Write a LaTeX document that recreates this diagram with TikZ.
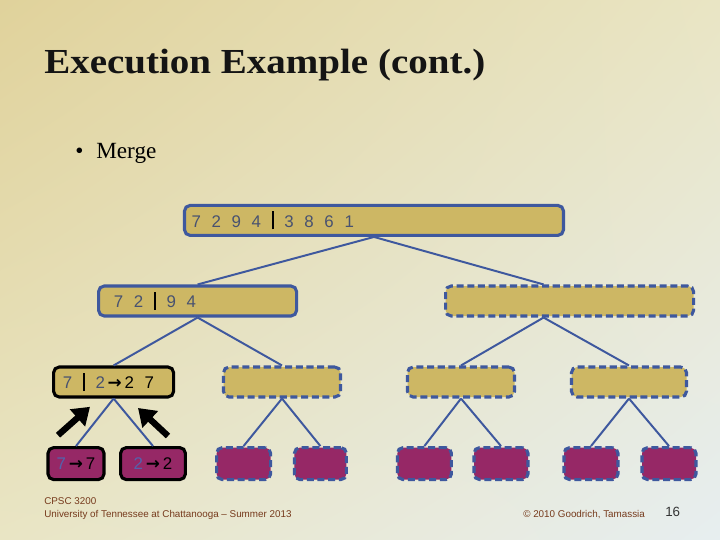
\documentclass[tikz,border=0pt]{standalone}
\usepackage{graphicx}
\usepackage{fontspec}
\setmainfont{Liberation Serif}
\setsansfont{Liberation Sans}
\newfontfamily\arrowfont{DejaVu Sans}
\usepackage{xcolor}
\definecolor{msgold}{RGB}{205,183,100}
\definecolor{msplum}{RGB}{150,40,102}
\definecolor{msblue}{RGB}{62,88,158}
\definecolor{msslate}{RGB}{72,82,112}
\definecolor{msdigit}{RGB}{84,98,172}
\definecolor{msbrown}{RGB}{118,58,28}
\definecolor{bgtan}{RGB}{224,210,155}
\definecolor{bgcream}{RGB}{233,229,196}
\definecolor{bgmist}{RGB}{231,238,240}
\usetikzlibrary{arrows.meta,positioning,shadings}
\newcommand{\dsp}{\hspace{0.63em}}
\newcommand{\mbar}{\textcolor{black}{\rule[-0.14em]{1.5pt}{1.07em}}}
\newcommand{\marr}{\textcolor{black}{{\arrowfont\bfseries →}}}
\tikzset{
  mnode/.style={draw=msblue, rounded corners=4pt, fill=#1, line width=2.2pt,
                minimum height=0.75cm, inner xsep=0.18cm, inner ysep=0pt,
                font=\sffamily\fontsize{12}{14}\selectfont, text=msslate, align=left},
  leaf/.style={draw=msblue, rounded corners=4pt, fill=msplum, line width=2.2pt,
               minimum height=0.8cm, minimum width=1.35cm, inner sep=0pt,
               font=\sffamily\fontsize{12}{14}\selectfont, text=black},
  mdone/.style={draw=black},
  mwait/.style={dash pattern=on 5pt off 2.6pt},
  link/.style={draw=msblue, line width=1.4pt},
  hint/.style={-{Triangle[length=0.42cm, width=0.55cm]}, line width=4.5pt, black},
  foot/.style={font=\sffamily\fontsize{7}{8.5}\selectfont, text=msbrown, inner sep=0pt, anchor=base west},
}

\begin{document}
\begin{tikzpicture}

% Slide background
\useasboundingbox (0,0) rectangle (18,-13.5);
\shade[upper left=bgtan, upper right=bgcream, lower left=bgcream, lower right=bgmist]
  (0,0) rectangle (18,-13.5);

% Title and bullet
\node[font=\fontsize{25}{29}\selectfont\bfseries, text=black!92, inner sep=0pt, anchor=base west]
  (title) at (1.1,-1.84) {\scalebox{1.11}[1]{Execution Example (cont.)}};
\node[font=\fontsize{16.5}{19}\selectfont, inner sep=0pt, anchor=base west] (dot) at (1.875,-3.95) {•};
\node[font=\fontsize{16.5}{19}\selectfont, inner sep=0pt, anchor=base west] (merge) at (2.4,-3.95) {Merge};

% Level 0
\node[mnode=msgold, text width=9.115cm] (root) at (9.35,-5.51)
  {7\dsp2\dsp9\dsp4\dsp\mbar\dsp3\dsp8\dsp6\dsp1};

% Level 1
\node[mnode=msgold, text width=4.59cm] (left) at (4.94,-7.525)
  {\hspace*{0.2cm}7\dsp2\dsp\mbar\dsp9\dsp4};
\node[mnode=msgold, mwait, text width=5.84cm] (right) at (14.24,-7.525) {};

% Level 2
\node[mnode=msgold, mdone, text width=2.64cm] (ll) at (2.84,-9.55)
  {\hspace*{0.05cm}7\dsp\mbar\dsp2\,\marr\,\textcolor{black}{2\dsp7}};
\node[mnode=msgold, mwait, text width=2.565cm] (lr) at (7.05,-9.55) {};
\node[mnode=msgold, mwait, text width=2.315cm] (rl) at (11.525,-9.55) {};
\node[mnode=msgold, mwait, text width=2.515cm] (rr) at (15.725,-9.55) {};

% Level 3: leaves
\node[leaf, mdone, minimum width=1.4cm] (a) at (1.9,-11.59) {\textcolor{msdigit}{7}\,\marr\,7};
\node[leaf, mdone, minimum width=1.62cm] (b) at (3.825,-11.59) {\textcolor{msdigit}{2}\,\marr\,2};
\node[leaf, mwait] (c) at (6.09,-11.59) {};
\node[leaf, mwait, minimum width=1.3cm] (d) at (8.01,-11.59) {};
\node[leaf, mwait] (e) at (10.61,-11.59) {};
\node[leaf, mwait] (f) at (12.525,-11.59) {};
\node[leaf, mwait] (g) at (14.775,-11.59) {};
\node[leaf, mwait] (h) at (16.725,-11.59) {};

% Tree edges
\draw[link] (root.south) -- (left.north);
\draw[link] (root.south) -- ([xshift=-0.65cm]right.north);
\draw[link] (left.south) -- (ll.north);
\draw[link] (left.south) -- (lr.north);
\draw[link] ([xshift=-0.65cm]right.south) -- (rl.north);
\draw[link] ([xshift=-0.65cm]right.south) -- (rr.north);
\draw[link] (ll.south) -- (a.north);
\draw[link] (ll.south) -- (b.north);
\draw[link] (lr.south) -- (c.north);
\draw[link] (lr.south) -- (d.north);
\draw[link] (rl.south) -- (e.north);
\draw[link] (rl.south) -- (f.north);
\draw[link] (rr.south) -- (g.north);
\draw[link] (rr.south) -- (h.north);

% Merge arrows
\coordinate (atail) at (1.45,-10.88);
\coordinate (ahead) at (2.25,-10.17);
\coordinate (btail) at (4.2,-10.9);
\coordinate (bhead) at (3.45,-10.2);
\draw[hint] (atail) -- (ahead);
\draw[hint] (btail) -- (bhead);

% Footer
\node[foot] (course) at (1.1,-12.6) {CPSC 3200};
\node[foot] (school) at (1.1,-12.93) {University of Tennessee at Chattanooga -- Summer 2013};
\node[foot] (copy) at (13.075,-12.93) {© 2010 Goodrich, Tamassia};
\node[foot, font=\sffamily\fontsize{9.5}{11}\selectfont, text=black!80] (page) at (16.625,-12.92) {16};

\end{tikzpicture}
\end{document}
